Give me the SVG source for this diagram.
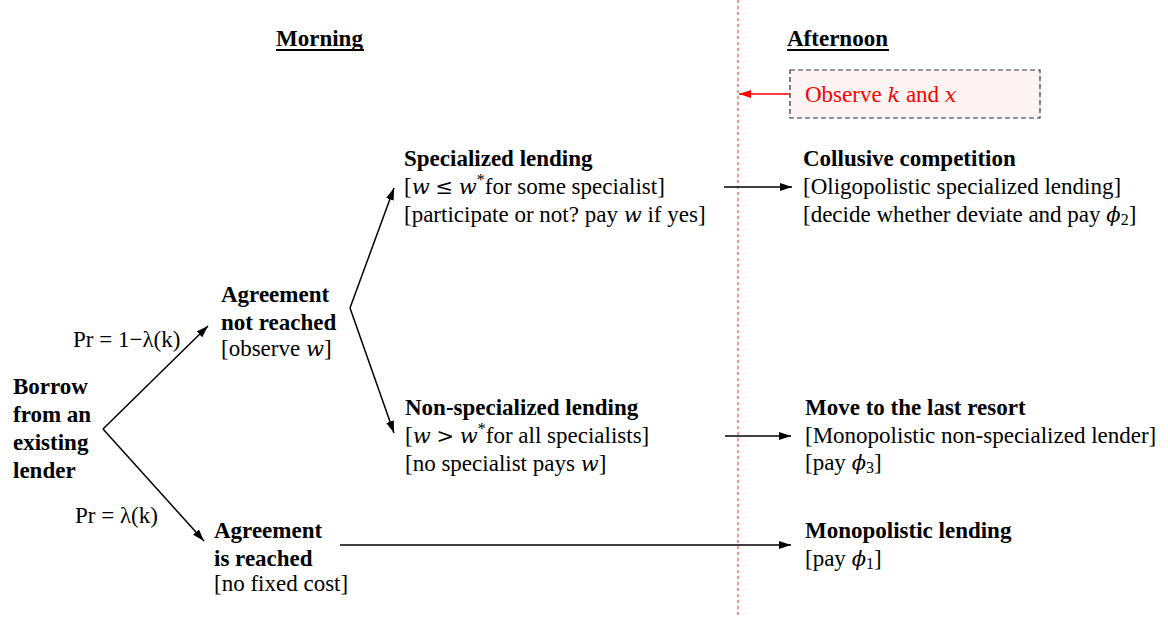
<svg xmlns="http://www.w3.org/2000/svg" width="1168" height="618" viewBox="0 0 1168 618">
<style>
text{font-family:"Liberation Serif","Times New Roman",serif;font-size:23px;fill:#000}
.b{font-weight:bold}
.m{font-style:italic;font-family:"DejaVu Serif","Liberation Serif",serif;font-size:21px}
.r{font-family:"DejaVu Serif","Liberation Serif",serif;font-size:21px}
.sub{font-size:16px}
.conn line{stroke:#000;stroke-width:1.5;fill:none}
</style>
<defs>
<marker id="ah" viewBox="0 0 12 8" refX="12" refY="4" markerWidth="12" markerHeight="8" orient="auto" markerUnits="userSpaceOnUse"><path d="M0,0 L12,4 L0,8 z" fill="#000"/></marker>
<marker id="ahr" viewBox="0 0 12 8" refX="12" refY="4" markerWidth="12" markerHeight="8" orient="auto" markerUnits="userSpaceOnUse"><path d="M0,0 L12,4 L0,8 z" fill="#f00"/></marker>
</defs>
<g id="divider"><line x1="738" y1="0" x2="738" y2="618" stroke="#f05050" stroke-width="1.2" stroke-dasharray="3,3"/></g>
<g id="headers">
<text class="b" x="276" y="46">Morning</text>
<line x1="276" y1="50" x2="364" y2="50" stroke="#000" stroke-width="2"/>
<text class="b" x="787" y="46">Afternoon</text>
<line x1="787" y1="50" x2="889" y2="50" stroke="#000" stroke-width="2"/>
</g>
<g id="observe">
<rect x="790" y="70" width="250" height="48" fill="#fdf5f3" stroke="#333" stroke-width="1.2" stroke-dasharray="5,3"/>
<text x="805" y="102" style="fill:#f00">Observe <tspan class="m" style="fill:#f00">k</tspan> and <tspan class="m" style="fill:#f00">x</tspan></text>
</g>
<g id="borrow">
<text class="b" x="13" y="394">Borrow</text>
<text class="b" x="13" y="422">from an</text>
<text class="b" x="13" y="450">existing</text>
<text class="b" x="13" y="478">lender</text>
</g>
<g id="pr1"><text x="73" y="347">Pr = 1−λ(k)</text></g>
<g id="pr2"><text x="75" y="523">Pr = λ(k)</text></g>
<g id="notreached">
<text class="b" x="221" y="302">Agreement</text>
<text class="b" x="221" y="330">not reached</text>
<text x="221" y="356">[observe <tspan class="m">w</tspan>]</text>
</g>
<g id="reached">
<text class="b" x="214" y="538">Agreement</text>
<text class="b" x="214" y="566">is reached</text>
<text x="214" y="591">[no fixed cost]</text>
</g>
<g id="specialized">
<text class="b" x="404" y="166">Specialized lending</text>
<text x="404" y="194">[<tspan class="m">w</tspan> <tspan class="r">≤</tspan> <tspan class="m">w</tspan><tspan class="sub" dy="-9">*</tspan><tspan dy="9">for some specialist]</tspan></text>
<text x="404" y="222">[participate or not? pay <tspan class="m">w</tspan> if yes]</text>
</g>
<g id="nonspecialized">
<text class="b" x="405" y="415">Non-specialized lending</text>
<text x="405" y="443">[<tspan class="m">w</tspan> <tspan class="r">&gt;</tspan> <tspan class="m">w</tspan><tspan class="sub" dy="-9">*</tspan><tspan dy="9">for all specialists]</tspan></text>
<text x="405" y="471">[no specialist pays <tspan class="m">w</tspan>]</text>
</g>
<g id="collusive">
<text class="b" x="803" y="166">Collusive competition</text>
<text x="803" y="194">[Oligopolistic specialized lending]</text>
<text x="803" y="222">[decide whether deviate and pay <tspan class="m">ϕ</tspan><tspan class="sub" dy="3">2</tspan><tspan dy="-3">]</tspan></text>
</g>
<g id="lastresort">
<text class="b" x="805" y="415">Move to the last resort</text>
<text x="805" y="443">[Monopolistic non-specialized lender]</text>
<text x="805" y="470">[pay <tspan class="m">ϕ</tspan><tspan class="sub" dy="3">3</tspan><tspan dy="-3">]</tspan></text>
</g>
<g id="monopolistic">
<text class="b" x="805" y="538">Monopolistic lending</text>
<text x="805" y="566">[pay <tspan class="m">ϕ</tspan><tspan class="sub" dy="3">1</tspan><tspan dy="-3">]</tspan></text>
</g>
<g class="conn" id="connectors">
<line x1="103" y1="429" x2="208" y2="326" marker-end="url(#ah)"/>
<line x1="103" y1="429" x2="204" y2="541" marker-end="url(#ah)"/>
<line x1="350" y1="308" x2="394" y2="188" marker-end="url(#ah)"/>
<line x1="350" y1="308" x2="394" y2="433" marker-end="url(#ah)"/>
<line x1="724" y1="187" x2="792" y2="187" marker-end="url(#ah)"/>
<line x1="725" y1="436" x2="791" y2="436" marker-end="url(#ah)"/>
<line x1="340" y1="545" x2="791" y2="545" marker-end="url(#ah)"/>
<line x1="790" y1="94" x2="739" y2="94" style="stroke:#f00" marker-end="url(#ahr)"/>
</g>
</svg>
